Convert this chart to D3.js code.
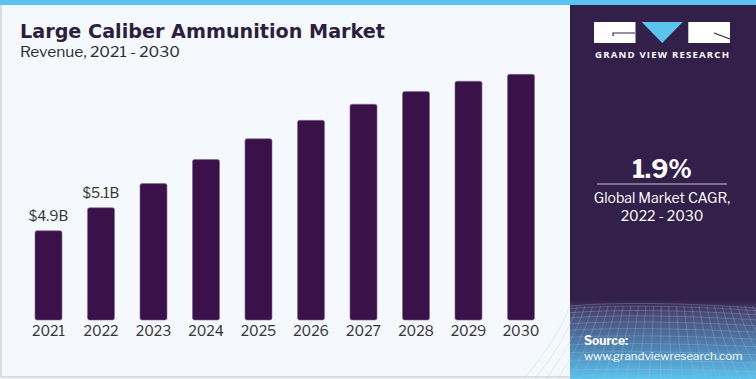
<!DOCTYPE html>
<html>
<head>
<meta charset="utf-8">
<script src="https://cdn.jsdelivr.net/npm/d3@7"></script>
<style>
  html, body { margin: 0; padding: 0; background: #ffffff; }
  svg { display: block; }
</style>
</head>
<body>
<svg id="chart" width="756" height="379"></svg>
<script>
// ---- data ----
const years = ["2021","2022","2023","2024","2025","2026","2027","2028","2029","2030"];
const revenue = [4.9, 5.1, 5.31, 5.52, 5.70, 5.86, 6.00, 6.11, 6.20, 6.26];
const valueLabels = ["$4.9B", "$5.1B", "", "", "", "", "", "", "", ""];
const titleText = "Large Caliber Ammunition Market";
const subtitleText = "Revenue, 2021 - 2030";
const cagrValue = "1.9%";
const cagrLines = ["Global Market CAGR,", "2022 - 2030"];
const sourceLines = ["Source:", "www.grandviewresearch.com"];

const svg = d3.select("#chart");
const W = 756, H = 379;
const font = "'Libre Franklin','Roboto','Liberation Sans',Arial,sans-serif";

// backgrounds
svg.append("rect").attr("x",0).attr("y",0).attr("width",W).attr("height",H).attr("fill","#f5f8fc");
svg.append("line").attr("x1",1).attr("x2",1).attr("y1",5).attr("y2",377).attr("stroke","#d2d4d8").attr("stroke-width",1.5);
svg.append("line").attr("x1",1).attr("x2",570).attr("y1",377).attr("y2",377).attr("stroke","#d2d4d8").attr("stroke-width",1.5);

// right panel
const defs = svg.append("defs");
const grad = defs.append("linearGradient").attr("id","panelGrad").attr("x1",0).attr("y1",0).attr("x2",0).attr("y2",1);
grad.append("stop").attr("offset","0%").attr("stop-color","#33204a");
grad.append("stop").attr("offset","79%").attr("stop-color","#33204a");
grad.append("stop").attr("offset","83%").attr("stop-color","#4a4c78");
grad.append("stop").attr("offset","92%").attr("stop-color","#4f86b4");
grad.append("stop").attr("offset","100%").attr("stop-color","#5cc3ee");
svg.append("rect").attr("x",570).attr("y",0).attr("width",186).attr("height",H).attr("fill","url(#panelGrad)");

// mesh in lower part of the panel
const mesh = svg.append("g").attr("stroke","#a9c2e0").attr("stroke-opacity",0.4).attr("stroke-width",0.7).attr("fill","none");
d3.range(0, 12).forEach(i => {
  const yy = 306 + Math.pow(i/11, 1.4) * 73;
  mesh.append("path").attr("d", `M570,${yy} Q640,${yy-6+i*0.4} 756,${yy+2}`);
});
d3.range(0, 26).forEach(i => {
  const xx = 570 + i * 7.6;
  const spread = (xx - 663) * 0.5;
  mesh.append("path").attr("d", `M${xx},306 Q${xx+spread*0.3},342 ${xx+spread},379`);
});

// top blue strip
svg.append("rect").attr("x",0).attr("y",0).attr("width",W).attr("height",5).attr("fill","#5bc4ee");

// logo
const logo = svg.append("g");
logo.append("rect").attr("x",594).attr("y",22).attr("width",41.5).attr("height",21).attr("fill","#ffffff");
logo.append("path").attr("d","M635,33 H613 V36").attr("stroke","#33204a").attr("stroke-width",1.2).attr("fill","none");
logo.append("path").attr("d","M641.7,22 H682.7 L662.2,43 Z").attr("fill","#5bc4ee");
logo.append("rect").attr("x",688.3).attr("y",22).attr("width",41.7).attr("height",21).attr("fill","#ffffff");
logo.append("path").attr("d","M714,33 L730,39").attr("stroke","#33204a").attr("stroke-width",1.2).attr("fill","none");
logo.append("text").attr("x",595).attr("y",58)
  .attr("font-family","'Open Sans','Liberation Sans',Arial,sans-serif").attr("font-weight",700)
  .attr("font-size",9.6).attr("textLength",134).attr("lengthAdjust","spacing")
  .attr("fill","#ffffff").text("GRAND VIEW RESEARCH");

// CAGR
svg.append("text").attr("x",662).attr("y",178).attr("text-anchor","middle")
  .attr("font-family",font).attr("font-weight",700).attr("font-size",25).attr("fill","#ffffff").text(cagrValue);
svg.append("line").attr("x1",597).attr("x2",727).attr("y1",184).attr("y2",184).attr("stroke","#c9c4d2").attr("stroke-width",1);
cagrLines.forEach((t,i) => {
  svg.append("text").attr("x",662).attr("y",203 + i*18).attr("text-anchor","middle")
    .attr("font-family",font).attr("font-size",14).attr("fill","#ffffff").text(t);
});

// source
svg.append("text").attr("x",584).attr("y",345).attr("font-family",font).attr("font-weight",700)
  .attr("font-size",12).attr("fill","#ffffff").text(sourceLines[0]);
svg.append("text").attr("x",584).attr("y",360).attr("font-family",font)
  .attr("font-size",11.6).attr("fill","#ffffff").text(sourceLines[1]);

// title
svg.append("text").attr("x",20).attr("y",38).attr("font-family","'DejaVu Sans','Roboto',Arial,sans-serif")
  .attr("font-weight",700).attr("font-size",20).attr("textLength",365).attr("lengthAdjust","spacingAndGlyphs")
  .attr("fill","#2d1e40").text(titleText);
svg.append("text").attr("x",20).attr("y",57).attr("font-family",font)
  .attr("font-size",14.5).attr("textLength",160).attr("lengthAdjust","spacingAndGlyphs")
  .attr("fill","#2d2d33").text(subtitleText);

// scales
const x = d3.scaleBand().domain(years).range([22.25, 547.25]).paddingInner(0.486).paddingOuter(0.243);
const y = d3.scaleLinear().domain([4.124, 6.5]).range([320, 320 - (6.5-4.124)*115]);

// bars
svg.append("g").selectAll("rect").data(years).join("rect")
  .attr("x", d => x(d))
  .attr("y", (d,i) => y(revenue[i]))
  .attr("width", x.bandwidth())
  .attr("height", (d,i) => y.range()[0] - y(revenue[i]))
  .attr("rx", 2)
  .attr("fill", "#3a1149")
  .attr("stroke", "#7d6a92").attr("stroke-width", 0.6);

// value labels
svg.append("g").selectAll("text").data(years).join("text")
  .attr("x", d => x(d) + x.bandwidth()/2)
  .attr("y", (d,i) => y(revenue[i]) - 10)
  .attr("text-anchor","middle")
  .attr("font-family",font).attr("font-size",14).attr("fill","#333338")
  .text((d,i) => valueLabels[i]);

// x axis
const xAxis = d3.axisBottom(x).tickSize(0).tickPadding(0);
const ax = svg.append("g").attr("transform","translate(0,320)").call(xAxis);
ax.select(".domain").remove();
ax.selectAll("text").attr("dy",null).attr("y",15.7).attr("font-family",font).attr("font-size",14).attr("fill","#333338");
</script>
</body>
</html>
